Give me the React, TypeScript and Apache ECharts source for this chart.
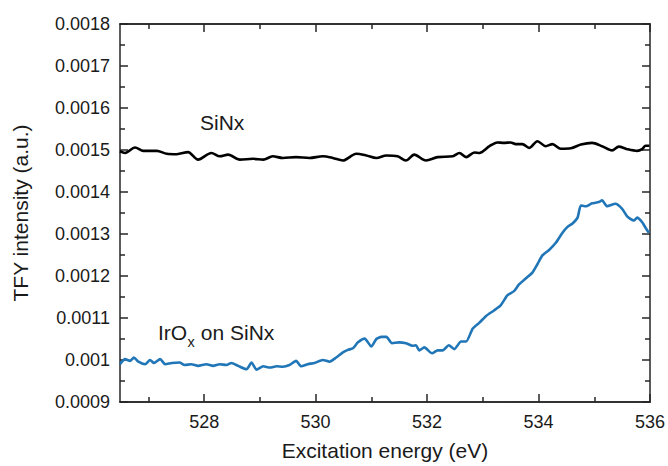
import React, { useEffect, useRef } from "react";
import * as echarts from "echarts";

const xMin = 526.49;
const xMax = 536;
const xMajorTicks = [528, 530, 532, 534, 536];
const xMinorTicks = [527, 529, 531, 533, 535];
const yMin = 0.0009;
const yMax = 0.0018;
const yInterval = 0.0001;

const sinxEnergy = [526.49, 526.58, 526.76, 526.91, 527.15, 527.33, 527.51, 527.71, 527.89, 528.13, 528.28, 528.43, 528.64, 528.88, 529.06, 529.23, 529.41, 529.65, 529.89, 530.13, 530.31, 530.49, 530.73, 530.91, 531.09, 531.27, 531.47, 531.62, 531.77, 531.98, 532.19, 532.46, 532.58, 532.70, 532.85, 532.94, 533.12, 533.26, 533.38, 533.50, 533.59, 533.71, 533.83, 533.98, 534.13, 534.25, 534.40, 534.58, 534.76, 534.96, 535.14, 535.32, 535.44, 535.59, 535.77, 535.86, 535.92, 535.99];
const sinxValues = [0.001497, 0.001493, 0.001506, 0.001498, 0.001498, 0.001491, 0.00149, 0.001495, 0.001477, 0.001493, 0.001485, 0.001489, 0.001477, 0.001479, 0.001477, 0.001485, 0.001481, 0.001483, 0.001481, 0.001485, 0.001481, 0.001475, 0.001491, 0.001487, 0.001481, 0.001487, 0.001485, 0.001475, 0.001489, 0.001475, 0.001483, 0.001485, 0.001493, 0.001483, 0.001494, 0.001493, 0.001509, 0.001518, 0.001517, 0.001518, 0.001514, 0.001514, 0.001505, 0.001521, 0.001509, 0.001514, 0.001503, 0.001504, 0.001513, 0.001517, 0.001509, 0.001499, 0.001508, 0.001502, 0.001498, 0.001502, 0.00151, 0.00151];

const irEnergy = [526.49, 526.58, 526.67, 526.74, 526.82, 526.94, 527.03, 527.10, 527.21, 527.30, 527.42, 527.56, 527.65, 527.77, 527.89, 528.04, 528.16, 528.28, 528.40, 528.49, 528.61, 528.76, 528.85, 528.94, 529.06, 529.18, 529.30, 529.41, 529.53, 529.65, 529.74, 529.86, 529.98, 530.13, 530.25, 530.37, 530.49, 530.58, 530.67, 530.76, 530.88, 531.00, 531.09, 531.18, 531.27, 531.37, 531.50, 531.62, 531.74, 531.80, 531.86, 531.95, 532.09, 532.19, 532.28, 532.39, 532.49, 532.61, 532.70, 532.82, 532.94, 533.06, 533.20, 533.32, 533.44, 533.56, 533.65, 533.77, 533.89, 533.98, 534.07, 534.19, 534.31, 534.43, 534.52, 534.61, 534.70, 534.76, 534.85, 534.96, 535.08, 535.14, 535.23, 535.38, 535.50, 535.59, 535.71, 535.77, 535.86, 535.92, 535.98];
const irValues = [0.00099, 0.001002, 0.000998, 0.001006, 0.000996, 0.00099, 0.001, 0.000993, 0.001002, 0.00099, 0.000993, 0.000994, 0.000988, 0.00099, 0.000986, 0.00099, 0.000986, 0.00099, 0.000988, 0.000993, 0.000986, 0.000978, 0.000994, 0.000977, 0.000985, 0.000982, 0.000985, 0.000984, 0.000988, 0.000998, 0.000985, 0.00099, 0.000993, 0.001, 0.000996, 0.001006, 0.001018, 0.001024, 0.001028, 0.001042, 0.001051, 0.001032, 0.00105, 0.001055, 0.001055, 0.00104, 0.001042, 0.00104, 0.001034, 0.001035, 0.001023, 0.00103, 0.001016, 0.001023, 0.001023, 0.001035, 0.001026, 0.001044, 0.001044, 0.001075, 0.001089, 0.001105, 0.001118, 0.00113, 0.001154, 0.001164, 0.00118, 0.001194, 0.001208, 0.001228, 0.001249, 0.001262, 0.001279, 0.001303, 0.001317, 0.001325, 0.001339, 0.001368, 0.001366, 0.001373, 0.001376, 0.00138, 0.001366, 0.001372, 0.00136, 0.001342, 0.001332, 0.001339, 0.001328, 0.001315, 0.001303];

const FONT = "'Liberation Sans', Arial, sans-serif";
const AXIS_COLOR = "#262626";
const TEXT_COLOR = "#1a1a1a";

function xAxisDef(position: string, ticks: number[], len: number, labels: boolean, name?: string) {
  return {
    type: "value",
    position,
    min: xMin,
    max: xMax,
    name: name || "",
    nameLocation: "middle",
    nameGap: 38,
    nameTextStyle: { fontFamily: FONT, fontSize: 21, color: TEXT_COLOR },
    axisLine: { show: true, lineStyle: { color: AXIS_COLOR, width: 1.5 } },
    axisTick: { show: true, inside: true, length: len, customValues: ticks, lineStyle: { color: AXIS_COLOR, width: 1.5 } },
    axisLabel: labels
      ? { show: true, customValues: ticks, margin: 11, fontFamily: FONT, fontSize: 18, color: TEXT_COLOR }
      : { show: false },
    splitLine: { show: false },
  };
}

function yAxisDef(position: string, labels: boolean, name?: string) {
  return {
    type: "value",
    position,
    min: yMin,
    max: yMax,
    interval: yInterval,
    name: name || "",
    nameLocation: "middle",
    nameGap: 89,
    nameTextStyle: { fontFamily: FONT, fontSize: 21, color: TEXT_COLOR },
    axisLine: { show: true, lineStyle: { color: AXIS_COLOR, width: 1.5 } },
    axisTick: { show: true, inside: true, length: 8, lineStyle: { color: AXIS_COLOR, width: 1.5 } },
    minorTick: { show: true, splitNumber: 2, length: 5, lineStyle: { color: AXIS_COLOR, width: 1.5 } },
    axisLabel: labels
      ? {
          show: true,
          margin: 10,
          fontFamily: FONT,
          fontSize: 18,
          color: TEXT_COLOR,
          formatter: (v: number) => String(parseFloat(v.toFixed(4))),
        }
      : { show: false },
    splitLine: { show: false },
    minorSplitLine: { show: false },
  };
}

export default function App() {
  const ref = useRef<HTMLDivElement>(null);
  useEffect(() => {
    if (!ref.current) return;
    const chart = echarts.init(ref.current, null, { renderer: "svg" });
    const sinxData = sinxEnergy.map((e, i) => [e, sinxValues[i]]);
    const irData = irEnergy.map((e, i) => [e, irValues[i]]);
    chart.setOption({
      animation: false,
      backgroundColor: "#ffffff",
      grid: { left: 120, right: 17, top: 24, bottom: 63, containLabel: false },
      xAxis: [
        xAxisDef("bottom", xMajorTicks, 8, true, "Excitation energy (eV)"),
        xAxisDef("bottom", xMinorTicks, 5, false),
        xAxisDef("top", xMajorTicks, 8, false),
        xAxisDef("top", xMinorTicks, 5, false),
      ],
      yAxis: [yAxisDef("left", true, "TFY intensity (a.u.)"), yAxisDef("right", false)],
      series: [
        {
          name: "SiNx",
          type: "line",
          xAxisIndex: 0,
          yAxisIndex: 0,
          data: sinxData,
          showSymbol: false,
          smooth: 0.3,
          lineStyle: { color: "#000000", width: 2.6 },
        },
        {
          name: "IrOx on SiNx",
          type: "line",
          xAxisIndex: 0,
          yAxisIndex: 0,
          data: irData,
          showSymbol: false,
          smooth: 0.2,
          lineStyle: { color: "#2176b7", width: 2.6 },
        },
      ],
      graphic: [
        {
          type: "text",
          x: 200,
          y: 122,
          style: { text: "SiNx", fontFamily: FONT, fontSize: 21, fill: TEXT_COLOR, verticalAlign: "middle", align: "left" },
        },
        {
          type: "text",
          x: 158,
          y: 332.5,
          style: { text: "IrO", fontFamily: FONT, fontSize: 21, fill: TEXT_COLOR, verticalAlign: "middle", align: "left" },
        },
        {
          type: "text",
          x: 187.6,
          y: 342,
          style: { text: "x", fontFamily: FONT, fontSize: 14.5, fill: TEXT_COLOR, verticalAlign: "middle", align: "left" },
        },
        {
          type: "text",
          x: 195,
          y: 332.5,
          style: { text: " on SiNx", fontFamily: FONT, fontSize: 21, fill: TEXT_COLOR, verticalAlign: "middle", align: "left" },
        },
      ],
    });
    return () => chart.dispose();
  }, []);
  return <div ref={ref} style={{ position: "fixed", left: 0, top: 0, width: 668, height: 466 }} />;
}
